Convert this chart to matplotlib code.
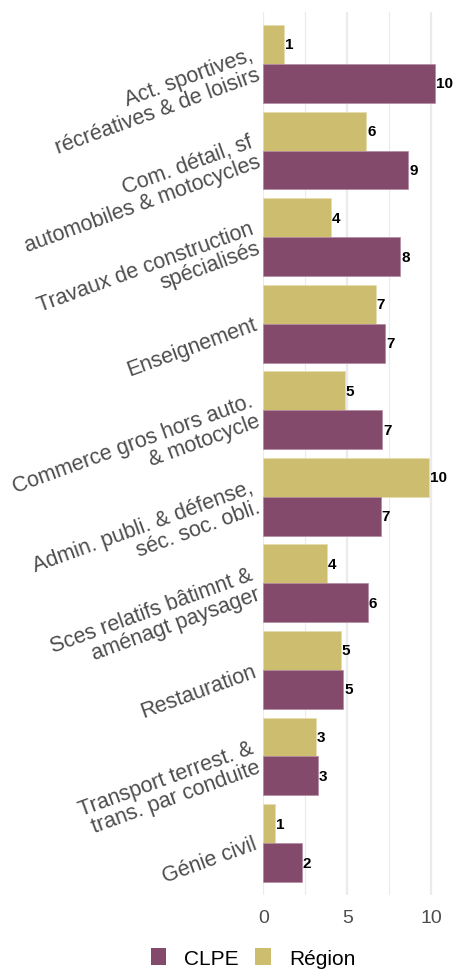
import matplotlib
matplotlib.use("Agg")
import matplotlib.pyplot as plt
from matplotlib.patches import Patch
from matplotlib.transforms import ScaledTranslation
import numpy as np

categories = [
    "Act. sportives,\nrécréatives & de loisirs",
    "Com. détail, sf\nautomobiles & motocycles",
    "Travaux de construction\nspécialisés",
    "Enseignement",
    "Commerce gros hors auto.\n& motocycle",
    "Admin. publi. & défense,\nséc. soc. obli.",
    "Sces relatifs bâtimnt &\naménagt paysager",
    "Restauration",
    "Transport terrest. &\ntrans. par conduite",
    "Génie civil",
]
clpe = [10.24, 8.63, 8.15, 7.26, 7.07, 6.98, 6.2, 4.76, 3.27, 2.3]
region = [1.25, 6.13, 4.0, 6.7, 4.85, 9.84, 3.8, 4.6, 3.15, 0.7]
xticks = [0, 5, 10]

C_CLPE = "#834A6C"
C_REG = "#CDBD6E"
W, H = 470, 970
plt.rcParams["font.family"] = ["Liberation Sans", "DejaVu Sans"]
fig = plt.figure(figsize=(W / 100, H / 100), dpi=100)
left, right, top, bottom = 263, 460, 13, 896
ax = fig.add_axes([left / W, 1 - bottom / H, (right - left) / W, (bottom - top) / H])

y = np.arange(len(categories))
bh = 0.45
ax.barh(y - bh / 2, region, height=bh, color=C_REG, edgecolor="#e6dcb0", linewidth=0.5)
ax.barh(y + bh / 2, clpe, height=bh, color=C_CLPE, edgecolor="#b48aa0", linewidth=0.5)
for yi, v in zip(y, region):
    ax.text(v + 0.05, yi - bh / 2, f"{round(v):d}", va="center", ha="left",
            fontsize=11, fontweight="bold", color="black")
for yi, v in zip(y, clpe):
    ax.text(v + 0.05, yi + bh / 2, f"{round(v):d}", va="center", ha="left",
            fontsize=11, fontweight="bold", color="black")

ax.set_ylim(len(categories) - 0.4, -0.6)
ax.set_xlim(-0.02, 11.7)
ax.set_xticks(xticks)
ax.set_xticklabels([str(t) for t in xticks], fontsize=14, color="#4d4d4d")
ax.set_xticks([2.5, 7.5], minor=True)
ax.grid(axis="x", which="major", color="#ebebeb", linewidth=1.6)
ax.grid(axis="x", which="minor", color="#ebebeb", linewidth=0.8)
ax.grid(axis="y", visible=False)
ax.set_axisbelow(True)
ax.set_yticks(y)
ax.set_yticklabels(categories, fontsize=15.5, color="#4d4d4d", rotation=20,
                   ha="right", va="center", rotation_mode="anchor", multialignment="right",
                   linespacing=1.0)
offset = ScaledTranslation(0, -5 / 100, fig.dpi_scale_trans)
for lab in ax.get_yticklabels():
    lab.set_transform(lab.get_transform() + offset)
ax.tick_params(axis="both", which="both", length=0, pad=5)
ax.tick_params(axis="x", pad=10)
for s in ax.spines.values():
    s.set_visible(False)

handles = [Patch(facecolor=C_CLPE, edgecolor="none", label="CLPE"),
           Patch(facecolor=C_REG, edgecolor="none", label="Région")]
fig.legend(handles=handles, loc="center", bbox_to_anchor=(253 / W, 1 - 959 / H), ncol=2,
           frameon=False, fontsize=15, handlelength=0.75, handleheight=0.9,
           columnspacing=0.8, handletextpad=0.85, labelcolor="black",
           borderpad=0, borderaxespad=0)

fig.savefig("out.png", dpi=100, facecolor="white")
